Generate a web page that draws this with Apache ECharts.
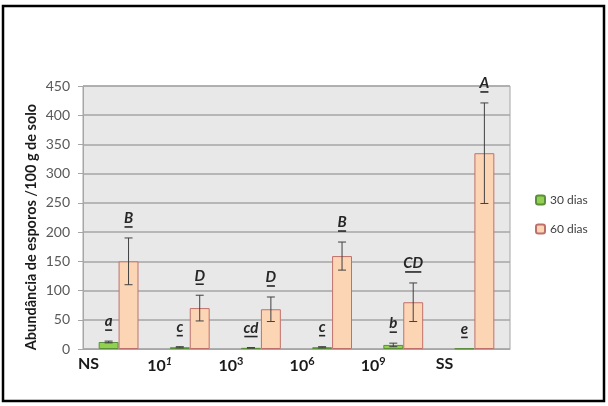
<!DOCTYPE html>
<html><head><meta charset="utf-8">
<script src="https://cdn.jsdelivr.net/npm/echarts@6/dist/echarts.min.js"></script>
<style>html,body{margin:0;padding:0;background:#fff}#c{width:608px;height:406px}</style>
</head><body><div id="c"></div>
<script>
const categories = ['NS', '10{i|1}', '10{s|3}', '10{s|6}', '10{s|9}', 'SS'];
const values30 = [12, 3, 2, 3, 7, 1];
const errors30 = [1.5, 1, 0.5, 1, 3, 0];
const letters30 = ['a', 'c', 'cd', 'c', 'b', 'e'];
const values60 = [150, 70, 68, 159, 80, 335];
const errors60 = [40, 22, 21, 24, 33, 86];
const letters60 = ['B', 'D', 'D', 'B', 'CD', 'A'];
const yTicks = [0, 450, 50];
const yTitle = 'Abundância de esporos /100 g de solo';

const FONT = 'Lato';
const letterFont = 'italic bold 15px ' + FONT;
const mctx = document.createElement('canvas').getContext('2d');
mctx.font = letterFont;

function errData(vals, errs, lets) {
  return vals.map((v, i) => [i, v, errs[i], lets[i]]);
}
function makeErr(sign) {
  return function (params, api) {
    const idx = api.value(0), v = api.value(1), e = api.value(2);
    const letter = sign < 0 ? letters30[idx] : letters60[idx];
    const band = api.size([1, 0])[0];
    const w = band * 0.28;
    const c = api.coord([idx, v]);
    const x = c[0] + sign * w / 2;
    const top = api.coord([idx, v + e])[1];
    const bot = api.coord([idx, Math.max(0, v - e)])[1];
    const children = [];
    const ls = { stroke: '#404040', lineWidth: 1 };
    if (e > 0) {
      children.push({ type: 'line', shape: { x1: x, y1: top, x2: x, y2: bot }, style: ls });
      children.push({ type: 'line', shape: { x1: x - 4, y1: top, x2: x + 4, y2: top }, style: ls });
      children.push({ type: 'line', shape: { x1: x - 4, y1: bot, x2: x + 4, y2: bot }, style: ls });
    }
    const uy = top - 11;
    const tw = Math.min(mctx.measureText(letter).width, letter.length * 9) * 0.9;
    children.push({ type: 'text', style: { text: letter, x: x, y: uy - 1, textAlign: 'center', textVerticalAlign: 'bottom', font: letterFont, fill: '#262626' } });
    children.push({ type: 'line', shape: { x1: x - tw / 2, y1: uy, x2: x + tw / 2, y2: uy }, style: { stroke: '#262626', lineWidth: 1.6 } });
    return { type: 'group', children: children };
  };
}

const chart = echarts.init(document.getElementById('c'), null, { renderer: 'canvas' });
chart.setOption({
  animation: false,
  backgroundColor: '#ffffff',
  graphic: [
    { type: 'rect', shape: { x: 3, y: 6, width: 601, height: 395 }, style: { fill: 'none', stroke: '#000', lineWidth: 2.5 }, z: 100 },
    { type: 'text', x: 31, y: 227, rotation: Math.PI / 2,
      style: { text: yTitle, textAlign: 'center', textVerticalAlign: 'middle', fontFamily: FONT, fontSize: 14.5, fontWeight: 'bold', fill: '#1a1a1a' } }
  ],
  grid: { left: 83, right: 98, top: 86, bottom: 57, show: true, backgroundColor: '#e8e8e8', borderColor: '#a6a6a6', borderWidth: 1 },
  legend: {
    orient: 'vertical', left: 530, top: 189, itemWidth: 9, itemHeight: 9, itemGap: 17,
    textStyle: { fontFamily: FONT, fontSize: 12, color: '#404040' },
    data: ['30 dias', '60 dias']
  },
  xAxis: {
    type: 'category', data: categories,
    axisLine: { lineStyle: { color: '#a6a6a6', width: 1 } },
    axisTick: { show: false },
    axisLabel: {
      margin: 7, padding: [0, 60, 0, 0], interval: 0,
      fontFamily: FONT, fontSize: 16, fontWeight: 'bold', color: '#1a1a1a',
      rich: {
        i: { fontStyle: 'italic', fontWeight: 'bold', fontSize: 11, verticalAlign: 'top', padding: [0, 0, 8, 0], fontFamily: FONT, color: '#1a1a1a' },
        s: { fontWeight: 'bold', fontSize: 11, verticalAlign: 'top', padding: [0, 0, 8, 0], fontFamily: FONT, color: '#1a1a1a' }
      }
    }
  },
  yAxis: {
    type: 'value', min: yTicks[0], max: yTicks[1], interval: yTicks[2],
    axisLine: { show: true, lineStyle: { color: '#a6a6a6' } },
    axisTick: { show: true, length: 5, lineStyle: { color: '#a6a6a6' } },
    axisLabel: { fontFamily: FONT, fontSize: 14, color: '#595959', margin: 13 },
    splitLine: { lineStyle: { color: '#a6a6a6', width: 1.5 } }
  },
  series: [
    { name: '30 dias', type: 'bar', data: values30, barWidth: '28%', barGap: '0%',
      itemStyle: { color: '#92d050', borderColor: '#5b8f3a', borderWidth: 1 } },
    { name: '60 dias', type: 'bar', data: values60, barWidth: '28%', barGap: '0%',
      itemStyle: { color: '#fcd5b5', borderColor: '#c0706a', borderWidth: 1 } },
    { type: 'custom', renderItem: makeErr(-1), data: errData(values30, errors30, letters30), z: 10, silent: true },
    { type: 'custom', renderItem: makeErr(1), data: errData(values60, errors60, letters60), z: 10, silent: true }
  ]
});
</script></body></html>
